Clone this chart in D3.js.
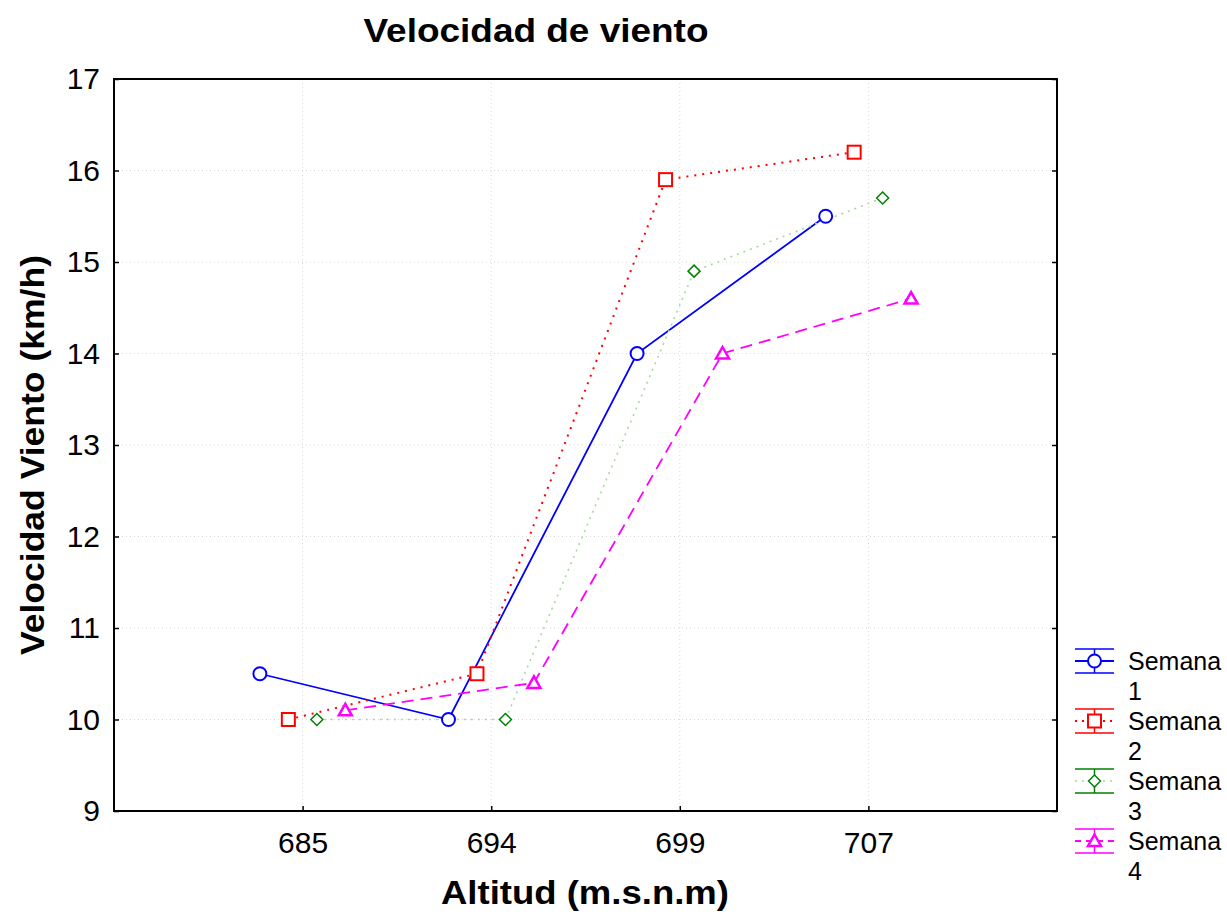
<!DOCTYPE html>
<html><head><meta charset="utf-8">
<script src="https://cdn.jsdelivr.net/npm/d3@7"></script>
<style>body{margin:0;background:#fff;} text{font-family:"Liberation Sans",Arial,sans-serif;}</style>
</head><body>
<svg id="c" width="1227" height="914"></svg>
<script>
const categories = ["685","694","699","707"];
const seriesNames = ["Semana 1","Semana 2","Semana 3","Semana 4"];
const semana1 = [10.5, 10.0, 14.0, 15.5];
const semana2 = [10.0, 10.5, 15.9, 16.2];
const semana3 = [10.0, 10.0, 14.9, 15.7];
const semana4 = [10.1, 10.4, 14.0, 14.6];
const yTicks = [9,10,11,12,13,14,15,16,17];
const title = "Velocidad de viento";
const xLabel = "Altitud (m.s.n.m)";
const yLabel = "Velocidad Viento (km/h)";

const series = [
  {name: seriesNames[0], values: semana1, color: "#0000ff", dash: null, marker: "circle", lineColor: "#0000ff", w: 1.8},
  {name: seriesNames[1], values: semana2, color: "#ff0000", dash: "2,6", marker: "square", lineColor: "#ff0000", w: 2},
  {name: seriesNames[2], values: semana3, color: "#008000", dash: "2,5", marker: "diamond", lineColor: "#a8d8a0", w: 1.6},
  {name: seriesNames[3], values: semana4, color: "#ff00ff", dash: "12,7", marker: "triangle", lineColor: "#ff00ff", w: 1.8}
];
const offsets = [-1.5,-0.5,0.5,1.5];

const svg = d3.select("#c");
const L = 114, R = 1057, T = 79, B = 811;
const x = d3.scalePoint().domain(categories).range([L, R]).padding(1);
const y = d3.scaleLinear().domain([9,17]).range([B, T]);
const off = x.step() * 0.151;

// gridlines
const g = svg.append("g");
g.selectAll(".gy").data(yTicks.slice(1,-1)).join("line")
  .attr("x1", L).attr("x2", R).attr("y1", d=>y(d)).attr("y2", d=>y(d))
  .attr("stroke", "#d8d8d8").attr("stroke-width", 1).attr("stroke-dasharray", "1,3");
g.selectAll(".gx").data(categories).join("line")
  .attr("x1", d=>x(d)).attr("x2", d=>x(d)).attr("y1", T).attr("y2", B)
  .attr("stroke", "#d8d8d8").attr("stroke-width", 1).attr("stroke-dasharray", "1,3");

// axes
const yAxis = d3.axisLeft(y).tickValues(yTicks).tickSize(-5).tickPadding(14).tickFormat(d3.format("d"));
const ya = svg.append("g").attr("transform", `translate(${L},0)`).call(yAxis);
ya.select(".domain").remove();
ya.selectAll("text").attr("font-size", 30).attr("fill", "#000");
ya.selectAll("line").attr("stroke", "#000").attr("stroke-width", 1.5);
const yAxisR = d3.axisRight(y).tickValues(yTicks).tickSize(-5).tickFormat("");
const yr = svg.append("g").attr("transform", `translate(${R},0)`).call(yAxisR);
yr.select(".domain").remove();
yr.selectAll("line").attr("stroke", "#000").attr("stroke-width", 1.5);

const xAxis = d3.axisBottom(x).tickSize(-5).tickPadding(21);
const xa = svg.append("g").attr("transform", `translate(0,${B})`).call(xAxis);
xa.select(".domain").remove();
xa.selectAll("text").attr("font-size", 30).attr("fill", "#000");
xa.selectAll("line").attr("stroke", "#000").attr("stroke-width", 1.5);

// frame
svg.append("rect").attr("x", L).attr("y", T).attr("width", R-L).attr("height", B-T)
  .attr("fill", "none").attr("stroke", "#000").attr("stroke-width", 2);

// markers
function drawMarker(sel, type, color, cx, cy) {
  if (type === "circle") sel.append("circle").attr("cx", cx).attr("cy", cy).attr("r", 6.5)
    .attr("fill", "#fff").attr("stroke", color).attr("stroke-width", 2);
  else if (type === "square") sel.append("rect").attr("x", cx-6.5).attr("y", cy-6.5).attr("width", 13).attr("height", 13)
    .attr("fill", "#fff").attr("stroke", color).attr("stroke-width", 2);
  else if (type === "diamond") sel.append("path").attr("d", `M${cx},${cy-6}L${cx+6},${cy}L${cx},${cy+6}L${cx-6},${cy}Z`)
    .attr("fill", "#fff").attr("stroke", color).attr("stroke-width", 1.5);
  else if (type === "triangle") sel.append("path").attr("d", `M${cx},${cy-6.5}L${cx+6.5},${cy+5}L${cx-6.5},${cy+5}Z`)
    .attr("fill", "#fff").attr("stroke", color).attr("stroke-width", 2.5);
}

const line = d3.line().x(d=>d[0]).y(d=>d[1]);
series.forEach((s, i) => {
  const pts = s.values.map((v, j) => [x(categories[j]) + offsets[i]*off, y(v)]);
  s.pts = pts;
  svg.append("path").attr("d", line(pts)).attr("fill", "none")
    .attr("stroke", s.lineColor).attr("stroke-width", s.w)
    .attr("stroke-dasharray", s.dash);
});
series.forEach((s) => {
  const gm = svg.append("g");
  s.pts.forEach(p => drawMarker(gm, s.marker, s.color, p[0], p[1]));
});

// legend
series.forEach((s, i) => {
  const cy = 661 + i*60;
  const lg = svg.append("g");
  const x0 = 1075, x1 = 1114, cx = 1094.5;
  lg.append("line").attr("x1", x0).attr("x2", x1).attr("y1", cy-12).attr("y2", cy-12).attr("stroke", s.color).attr("stroke-width", 1.5);
  lg.append("line").attr("x1", x0).attr("x2", x1).attr("y1", cy+12).attr("y2", cy+12).attr("stroke", s.color).attr("stroke-width", 1.5);
  lg.append("line").attr("x1", cx).attr("x2", cx).attr("y1", cy-12).attr("y2", cy+12).attr("stroke", s.color).attr("stroke-width", 1.5);
  lg.append("line").attr("x1", x0).attr("x2", x1).attr("y1", cy).attr("y2", cy)
    .attr("stroke", s.lineColor).attr("stroke-width", s.w).attr("stroke-dasharray", s.dash ? (i===3 ? "6,5" : "2,5") : null);
  drawMarker(lg, s.marker, s.color, cx, cy);
  const parts = s.name.split(" ");
  lg.append("text").attr("x", 1128).attr("y", cy + 9).attr("font-size", 25).text(parts[0]);
  lg.append("text").attr("x", 1128).attr("y", cy + 39).attr("font-size", 25).text(parts[1]);
});

// titles
svg.append("text").attr("x", 536).attr("y", 42).attr("text-anchor", "middle")
  .attr("font-size", 34).attr("font-weight", "bold")
  .attr("textLength", 345).attr("lengthAdjust", "spacingAndGlyphs").text(title);
svg.append("text").attr("x", 585).attr("y", 904).attr("text-anchor", "middle")
  .attr("font-size", 34).attr("font-weight", "bold")
  .attr("textLength", 288).attr("lengthAdjust", "spacingAndGlyphs").text(xLabel);
svg.append("text").attr("transform", `translate(44,455) rotate(-90)`).attr("text-anchor", "middle")
  .attr("font-size", 34).attr("font-weight", "bold")
  .attr("textLength", 400).attr("lengthAdjust", "spacingAndGlyphs").text(yLabel);
</script>
</body></html>
